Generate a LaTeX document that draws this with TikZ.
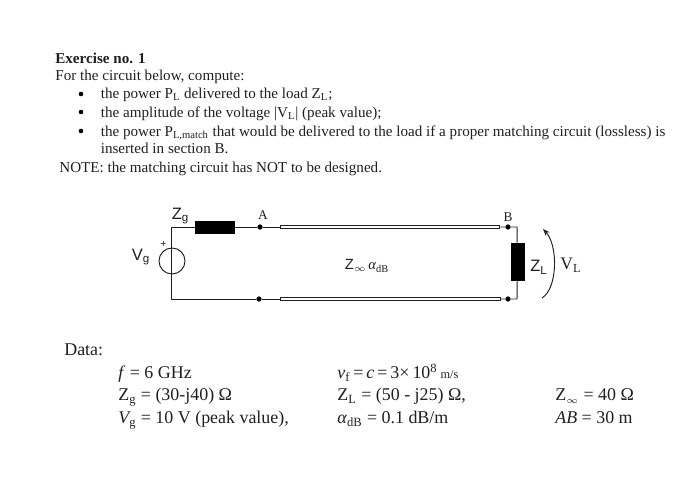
\documentclass[tikz,border=0pt]{standalone}
\usepackage{fontspec}
\setmainfont{Liberation Serif}
\newfontfamily\labelfont{Liberation Sans}
\usetikzlibrary{arrows.meta}
\definecolor{inkgray}{gray}{0.12}
\tikzset{
  txt/.style={anchor=base west,inner sep=0pt,text=inkgray,font=\fontsize{8.6pt}{10pt}\selectfont},
  datatxt/.style={anchor=base west,inner sep=0pt,text=inkgray,font=\fontsize{10.2pt}{11pt}\selectfont},
  lbl/.style={anchor=base,inner sep=0pt,text=inkgray,font=\labelfont\fontsize{9.4pt}{10pt}\selectfont},
  serlbl/.style={anchor=base,inner sep=0pt,text=inkgray,font=\fontsize{7.6pt}{9pt}\selectfont},
  bulletdot/.style={circle,fill=black,inner sep=0pt,minimum size=2.6pt},
  portdot/.style={circle,fill=black,inner sep=0pt,minimum size=3pt},
  loadbox/.style={draw=black,fill=black,inner sep=0pt},
  wire/.style={draw=inkgray,line width=0.55pt},
  tline/.style={draw=inkgray,fill=white,line width=0.6pt,inner sep=0pt,minimum width=125pt,minimum height=2pt}
}
\begin{document}
\begin{tikzpicture}[x=0.02cm,y=-0.02cm]
\useasboundingbox (0,0) rectangle (700,479);
% text above the circuit
\node[txt,font=\bfseries\fontsize{8.6pt}{10pt}\selectfont] (title) at (55,64) {Exercise no. 1};
\node[txt] (intro) at (55,81) {For the circuit below, compute:};
\node[bulletdot] (b1) at (81,94) {};
\node[bulletdot] (b2) at (81,112) {};
\node[bulletdot] (b3) at (81,131) {};
\node[txt] (item1) at (100.5,99) {the power P\textsubscript{L} delivered to the load Z\textsubscript{L};};
\node[txt] (item2) at (100.5,118) {the amplitude of the voltage |V\textsubscript{L}| (peak value);};
\node[txt] (item3) at (100.5,137) {the power P\textsubscript{L,match} that would be delivered to the load if a proper matching circuit (lossless) is};
\node[txt] (item3b) at (100.5,154) {inserted in section B.};
\node[txt] (note) at (59,172.5) {NOTE: the matching circuit has NOT to be designed.};
% circuit
\coordinate (topl) at (171,227);
\coordinate (botl) at (171,299);
\coordinate (topr) at (517,227);
\coordinate (botr) at (517,299);
\node[draw=inkgray,line width=0.55pt,circle,minimum size=14.8pt,inner sep=0pt] (vg) at (172,261) {};
\node[loadbox,minimum width=22.5pt,minimum height=7.2pt] (zg) at (215,227.5) {};
\node[portdot] (a) at (260,227) {};
\node[portdot] (a2) at (259,299) {};
\node[portdot] (b) at (508,227) {};
\node[portdot] (b2p) at (508,299) {};
\node[loadbox,minimum width=7.4pt,minimum height=21pt] (zl) at (517.5,261.5) {};
\node[tline] (ltop) at (390,227) {};
\node[tline] (lbot) at (390.5,299) {};
\draw[wire] (zg.west |- topl) -- (topl) -- (botl) -- (a2);
\draw[wire] (zg.east |- topl) -- (a) -- (ltop);
\draw[wire] (a2) -- (lbot);
\draw[wire] (ltop) -- (b) -- (topr) -- (zl);
\draw[wire] (lbot) -- (b2p) -- (botr) -- (zl);
\coordinate (vtail) at (542,298);
\coordinate (vhead) at (543,229);
\draw[wire,-{Stealth[length=4pt,width=3pt]}] (vtail) .. controls (558,288) and (558,245) .. (vhead);
\node[lbl] (zglab) at (180.5,220) {Z\textsubscript{g}};
\node[lbl] (vglab) at (141,261) {V\textsubscript{g}};
\node[lbl,font=\labelfont\fontsize{6pt}{7pt}\selectfont] (plus) at (163.5,248) {+};
\node[serlbl] (alab) at (263,220) {A};
\node[serlbl] (blab) at (508,222) {B};
\node[lbl,font=\labelfont\fontsize{8.4pt}{10pt}\selectfont] (zinf) at (367,270) {Z\textsubscript{$\scriptscriptstyle\infty$}\kern1pt{\fontspec{Liberation Serif}\itshape α\textsubscript{\normalfont dB}}};
\node[lbl] (zllab) at (539,272) {Z\textsubscript{L}};
\node[serlbl,font=\fontsize{10pt}{11pt}\selectfont] (vllab) at (571,270) {V\textsubscript{L}};
% data
\node[datatxt] (data) at (64,356) {Data:};
\node[datatxt] (d1) at (118,379) {\textit{f} = 6 GHz};
\node[datatxt] (d2) at (118,401) {Z\textsubscript{g} = (30-j40) Ω};
\node[datatxt] (d3) at (118,424) {\textit{V}\kern-1pt\textsubscript{g} = 10 V (peak value),};
\node[datatxt] (d4) at (337,379) {\textit{v}\textsubscript{f}\,=\,\textit{c}\,=\,3×\,10\textsuperscript{8}\,{\fontsize{7pt}{9pt}\selectfont m/s}};
\node[datatxt] (d5) at (337,401) {Z\textsubscript{L} = (50 - j25) Ω,};
\node[datatxt] (d6) at (337,424) {\textit{α}\textsubscript{dB} = 0.1 dB/m};
\node[datatxt] (d7) at (555,401) {Z\textsubscript{$\scriptscriptstyle\infty$} = 40 Ω};
\node[datatxt] (d8) at (555,424) {\textit{AB} = 30 m};
\end{tikzpicture}
\end{document}
